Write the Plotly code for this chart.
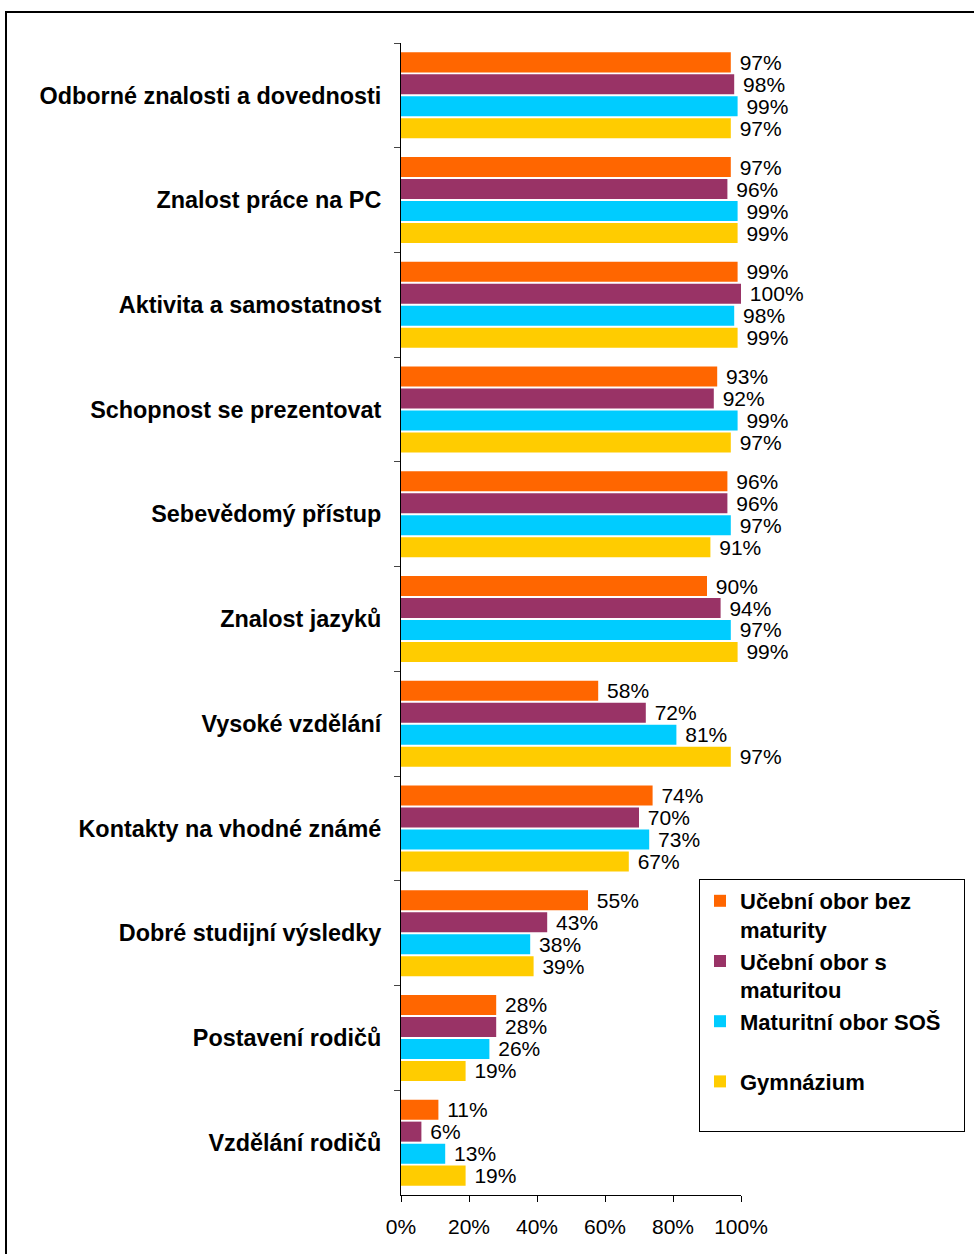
import plotly.graph_objects as go

categories = [
    "Odborné znalosti a dovednosti",
    "Znalost práce na PC",
    "Aktivita a samostatnost",
    "Schopnost se prezentovat",
    "Sebevědomý přístup",
    "Znalost jazyků",
    "Vysoké vzdělání",
    "Kontakty na vhodné známé",
    "Dobré studijní výsledky",
    "Postavení rodičů",
    "Vzdělání rodičů",
]

series_names = [
    "Učební obor bez<br>maturity",
    "Učební obor s<br>maturitou",
    "Maturitní obor SOŠ\u00a0\u00a0\u00a0<br> ",
    "Gymnázium<br> ",
]
ucebni_bez = [97, 97, 99, 93, 96, 90, 58, 74, 55, 28, 11]
ucebni_s = [98, 96, 100, 92, 96, 94, 72, 70, 43, 28, 6]
maturitni_sos = [99, 99, 98, 99, 97, 97, 81, 73, 38, 26, 13]
gymnazium = [97, 99, 99, 97, 91, 99, 97, 67, 39, 19, 19]
series_values = [ucebni_bez, ucebni_s, maturitni_sos, gymnazium]
colors = ["#FF6600", "#993366", "#00CCFF", "#FFCC00"]

x_ticks = [0, 20, 40, 60, 80, 100]
x_tick_labels = ["0%", "20%", "40%", "60%", "80%", "100%"]

FONT = "Liberation Sans, Arial, sans-serif"

fig = go.Figure()
for name, vals, col in zip(series_names, series_values, colors):
    fig.add_trace(go.Bar(
        y=categories, x=vals, name=name, orientation="h",
        marker=dict(color=col, line=dict(width=0)),
        text=[f" {v}%" for v in vals], textposition="outside",
        textfont=dict(family=FONT, size=21, color="black"),
        constraintext="none",
        cliponaxis=False,
    ))

W, H = 974, 1254
L, R, T, B = 401, 974 - 741, 43, 1254 - 1195
pw, ph = W - L - R, H - T - B

def px_x(p):
    return (p - L) / pw

def px_y(p):
    return (H - B - p) / ph

fig.update_layout(
    width=W, height=H,
    margin=dict(l=L, r=R, t=T, b=B, autoexpand=False),
    paper_bgcolor="white", plot_bgcolor="white",
    barmode="group", bargap=0.16, bargroupgap=0.09,
    font=dict(family=FONT, color="black"),
    showlegend=True,
    legend=dict(
        x=px_x(699), y=px_y(879), xanchor="left", yanchor="top",
        bordercolor="black", borderwidth=1, bgcolor="white",
        font=dict(family=FONT, size=22, color="black", weight="bold"),
        valign="top", traceorder="normal", itemwidth=30,
    ),
    xaxis=dict(
        range=[0, 100], tickvals=x_ticks, ticktext=x_tick_labels,
        showgrid=False, zeroline=False, showline=True, linecolor="black", linewidth=1,
        ticks="outside", ticklen=6, tickcolor="black", ticklabelstandoff=7,
        tickfont=dict(family=FONT, size=21, color="black"),
        fixedrange=True, automargin=False,
    ),
    yaxis=dict(
        autorange="reversed", showgrid=False, showline=True, linecolor="black", linewidth=1,
        ticks="outside", ticklen=6, tickcolor="#444", tickson="boundaries",
        ticklabelstandoff=14, automargin=False,
        tickfont=dict(family=FONT, size=23.4, color="black", weight="bold"),
    ),
    shapes=[dict(
        type="rect", xref="paper", yref="paper",
        x0=px_x(6), x1=px_x(990), y0=px_y(1270), y1=px_y(12),
        line=dict(color="black", width=2), fillcolor="rgba(0,0,0,0)", layer="above",
    )],
)

fig.write_html("out.html", config={"displayModeBar": False},
               post_script="document.body.style.margin='0';")
